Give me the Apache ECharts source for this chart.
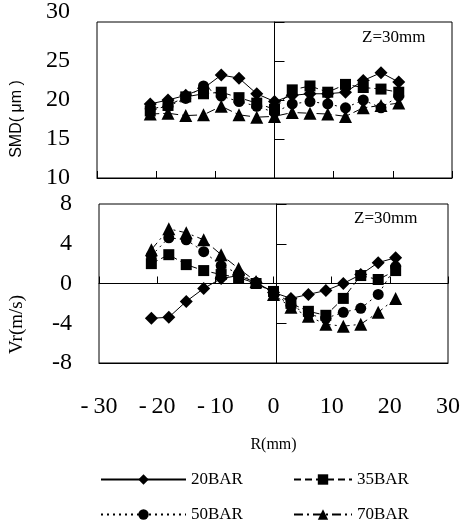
<!DOCTYPE html>
<html><head><meta charset="utf-8">
<script src="https://cdn.jsdelivr.net/npm/echarts@6/dist/echarts.min.js"></script>
<style>html,body{margin:0;padding:0;background:#fff}#c{width:463px;height:524px}</style>
</head><body><div id="c"></div>
<script>
// Radial positions (mm)
const R = [-21, -18, -15, -12, -9, -6, -3, 0, 3, 6, 9, 12, 15, 18, 21];
// SMD (um) at Z=30mm
const smd20 = [19.5, 20.0, 20.6, 21.5, 23.2, 22.8, 20.8, 19.8, 20.6, 20.8, 20.8, 21.0, 22.5, 23.5, 22.3];
const smd35 = [18.6, 19.3, 20.4, 20.8, 21.0, 20.3, 19.6, 18.8, 21.3, 21.8, 21.0, 22.0, 21.6, 21.4, 21.0];
const smd50 = [18.9, 19.2, 20.2, 21.8, 20.5, 19.8, 19.2, 18.4, 19.5, 19.8, 19.5, 19.0, 20.0, 19.0, 20.5];
const smd70 = [18.2, 18.3, 18.0, 18.1, 19.2, 18.1, 17.8, 17.9, 18.4, 18.3, 18.2, 17.9, 19.0, 19.3, 19.6];
// Vr (m/s) at Z=30mm
const vr20 = [-3.5, -3.4, -1.8, -0.5, 0.5, 0.8, 0.1, -0.9, -1.5, -1.1, -0.7, 0.0, 0.9, 2.1, 2.6];
const vr35 = [2.0, 2.9, 1.9, 1.3, 0.9, 0.6, 0.0, -0.8, -2.0, -2.8, -3.2, -1.5, 0.8, 0.4, 1.3];
const vr50 = [2.8, 4.6, 4.4, 3.2, 1.8, 1.0, 0.1, -1.0, -2.2, -3.1, -3.5, -2.9, -2.5, -1.1, 1.7];
const vr70 = [3.4, 5.5, 5.1, 4.4, 2.9, 1.5, 0.2, -1.1, -2.4, -3.3, -4.1, -4.3, -4.1, -2.9, -1.5];
const names = ['20BAR', '35BAR', '50BAR', '70BAR'];
const xTicks = {min: -30, max: 30, interval: 10};
const smdTicks = {min: 10, max: 30, interval: 5};
const vrTicks = {min: -8, max: 8, interval: 4};

const SERIF = '"Liberation Serif", "Times New Roman", serif';
const SANS = '"Liberation Sans", Arial, sans-serif';
const styles = [
  {symbol: 'diamond', size: 13, type: 'solid'},
  {symbol: 'rect', size: 11, type: [7, 4]},
  {symbol: 'circle', size: 11, type: [2, 4]},
  {symbol: 'triangle', size: 13, type: [9, 4, 2, 4]}
];
function mk(name, arr, si, xi, yi) {
  const s = styles[si];
  return {
    name: name, type: 'line', xAxisIndex: xi, yAxisIndex: yi,
    data: R.map((r, i) => [r, arr[i]]),
    symbol: s.symbol, symbolSize: s.size,
    itemStyle: {color: '#000'},
    lineStyle: {color: '#000', width: 1, type: s.type},
    animation: false
  };
}
function leg(name, left, top, w) {
  return {data: [name], orient: 'horizontal', left: left, top: top, padding: 0,
    itemWidth: w, itemHeight: 13, selectedMode: false,
    textStyle: {color: '#000', fontFamily: SERIF, fontSize: 17}};
}
const W = 355;
const gridTopH = 158, gridBotH = 159;
const chart = echarts.init(document.getElementById('c'));
chart.setOption({
  backgroundColor: '#fff',
  animation: false,
  grid: [
    {left: 97, top: 20, width: W, height: gridTopH, show: true, borderColor: '#000', borderWidth: 1, backgroundColor: 'transparent'},
    {left: 97, top: 204, width: W, height: gridBotH, show: true, borderColor: '#000', borderWidth: 1, backgroundColor: 'transparent'}
  ],
  xAxis: [
    Object.assign({gridIndex: 0, type: 'value', position: 'bottom',
      axisLine: {onZero: false, lineStyle: {color: '#000', width: 1}},
      axisTick: {show: true, inside: true, length: 7, lineStyle: {color: '#000'}},
      axisLabel: {show: false}, splitLine: {show: false}}, xTicks),
    Object.assign({gridIndex: 1, type: 'value', position: 'bottom',
      axisLine: {onZero: false, lineStyle: {color: '#000', width: 1}},
      axisTick: {show: false},
      axisLabel: {show: true, margin: 32, color: '#000', fontFamily: SERIF, fontSize: 24,
        formatter: v => v < 0 ? '-\u2009' + Math.abs(v) : String(v)},
      name: 'R(mm)', nameLocation: 'middle', nameGap: 74,
      nameTextStyle: {color: '#000', fontFamily: SERIF, fontSize: 16},
      splitLine: {show: false}}, xTicks),
    Object.assign({gridIndex: 1, type: 'value', position: 'bottom', offset: -gridBotH / 2,
      axisLine: {onZero: false, lineStyle: {color: '#000', width: 1}},
      axisTick: {show: true, inside: true, length: 7, lineStyle: {color: '#000'}},
      axisLabel: {show: false}, splitLine: {show: false}}, xTicks)
  ],
  yAxis: [
    Object.assign({gridIndex: 0, type: 'value', position: 'left',
      axisLine: {show: false, onZero: false}, axisTick: {show: false},
      axisLabel: {margin: 27, color: '#000', fontFamily: SERIF, fontSize: 24,
        formatter: v => v === 30 ? '{t|30}' : String(v),
        rich: {t: {fontFamily: SERIF, fontSize: 24, color: '#000', padding: [0, 0, 20, 0]}}},
      name: 'SMD( \u03bcm )', nameLocation: 'middle', nameGap: 72,
      nameTextStyle: {color: '#000', fontFamily: SANS, fontSize: 16, padding: [0, 38, 0, 0]},
      splitLine: {show: false}}, smdTicks),
    Object.assign({gridIndex: 0, type: 'value', position: 'left', offset: -W / 2,
      axisLine: {show: true, onZero: false, lineStyle: {color: '#000', width: 1}},
      axisTick: {show: true, inside: true, length: 10, lineStyle: {color: '#000'}},
      axisLabel: {show: false}, splitLine: {show: false}}, smdTicks),
    Object.assign({gridIndex: 1, type: 'value', position: 'left',
      axisLine: {show: false, onZero: false}, axisTick: {show: false},
      axisLabel: {margin: 27, color: '#000', fontFamily: SERIF, fontSize: 24,
        formatter: v => v < 0 ? '-' + Math.abs(v) : String(v)},
      name: 'Vr(m/s)', nameLocation: 'middle', nameGap: 72,
      nameTextStyle: {color: '#000', fontFamily: SERIF, fontSize: 19, padding: [0, 82, 0, 0]},
      splitLine: {show: false}}, vrTicks),
    Object.assign({gridIndex: 1, type: 'value', position: 'left', offset: -W / 2,
      axisLine: {show: true, onZero: false, lineStyle: {color: '#000', width: 1}},
      axisTick: {show: true, inside: true, length: 10, lineStyle: {color: '#000'}},
      axisLabel: {show: false}, splitLine: {show: false}}, vrTicks)
  ],
  legend: [
    leg('20BAR', 100, 471, 85),
    leg('35BAR', 293, 471, 58),
    leg('50BAR', 100, 506, 85),
    leg('70BAR', 293, 506, 58)
  ],
  graphic: [
    {type: 'text', left: 362, top: 29, style: {text: 'Z=30mm', fill: '#000', font: '17px ' + SERIF}},
    {type: 'text', left: 354, top: 210, style: {text: 'Z=30mm', fill: '#000', font: '17px ' + SERIF}}
  ],
  series: [
    mk(names[0], smd20, 0, 0, 0), mk(names[1], smd35, 1, 0, 0), mk(names[2], smd50, 2, 0, 0), mk(names[3], smd70, 3, 0, 0),
    mk(names[0], vr20, 0, 1, 2), mk(names[1], vr35, 1, 1, 2), mk(names[2], vr50, 2, 1, 2), mk(names[3], vr70, 3, 1, 2)
  ]
});
</script></body></html>
